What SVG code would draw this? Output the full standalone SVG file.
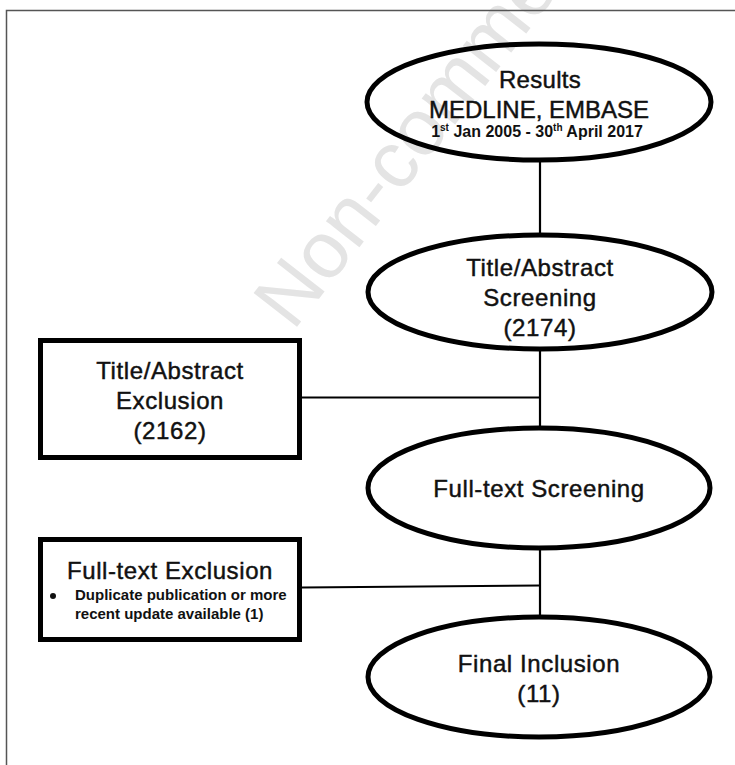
<svg xmlns="http://www.w3.org/2000/svg" width="735" height="765" viewBox="0 0 735 765">
<style>
.lbl{font-family:"Liberation Sans",Arial,Helvetica,sans-serif;font-size:24px;fill:#111;stroke:#111;stroke-width:0.45px;text-anchor:middle;letter-spacing:0.6px}
.node ellipse,.node rect{fill:none;stroke:#000;stroke-width:5}
.conn line{stroke:#000;stroke-width:2.2}
.small{font-family:"Liberation Sans",Arial,Helvetica,sans-serif;font-weight:bold;fill:#111}
</style>
<rect width="735" height="765" fill="#fff"/>
<text id="watermark" x="0" y="0" transform="translate(293,332) rotate(-52)" font-family="'Liberation Sans',Arial,sans-serif" font-size="80" fill="#e4e4e4">Non-comme</text>
<path d="M6.5 765 V10.5 H735" stroke="#555" stroke-width="1.5" fill="none"/>
<g id="connectors" class="conn">
<line x1="540" y1="160" x2="540" y2="236"/>
<line x1="540" y1="349" x2="540" y2="429"/>
<line x1="302" y1="397.5" x2="540" y2="397.5"/>
<line x1="540" y1="547" x2="540" y2="618"/>
<line x1="302" y1="587.5" x2="540" y2="585.5"/>
</g>
<g id="results" class="node">
<ellipse cx="539" cy="102" rx="172" ry="58"/>
<text class="lbl" x="540" y="88" style="letter-spacing:0.3px">Results</text>
<text class="lbl" x="539" y="118" style="letter-spacing:0">MEDLINE, EMBASE</text>
<text class="small" x="537" y="137" font-size="16" text-anchor="middle">1<tspan font-size="10" dy="-6">st</tspan><tspan dy="6"> Jan 2005 - 30</tspan><tspan font-size="10" dy="-6">th</tspan><tspan dy="6"> April 2017</tspan></text>
</g>
<g id="ta-screening" class="node">
<ellipse cx="540" cy="292" rx="172" ry="57"/>
<text class="lbl" x="540" y="276">Title/Abstract</text>
<text class="lbl" x="540" y="306">Screening</text>
<text class="lbl" x="540" y="336">(2174)</text>
</g>
<g id="ta-exclusion" class="node">
<rect x="40.5" y="340.5" width="259" height="117"/>
<text class="lbl" x="170" y="379">Title/Abstract</text>
<text class="lbl" x="170" y="409">Exclusion</text>
<text class="lbl" x="170" y="439">(2162)</text>
</g>
<g id="ft-screening" class="node">
<ellipse cx="539" cy="488" rx="171" ry="60"/>
<text class="lbl" x="539" y="497">Full-text Screening</text>
</g>
<g id="ft-exclusion" class="node">
<rect x="40.5" y="539.5" width="259" height="100"/>
<text class="lbl" x="170" y="579">Full-text Exclusion</text>
<circle cx="53" cy="596" r="3" fill="#111"/>
<text class="small" x="75" y="600" font-size="15">Duplicate publication or more</text>
<text class="small" x="75" y="619" font-size="15">recent update available (1)</text>
</g>
<g id="final-inclusion" class="node">
<ellipse cx="539" cy="677" rx="171" ry="60"/>
<text class="lbl" x="539" y="672">Final Inclusion</text>
<text class="lbl" x="539" y="702">(11)</text>
</g>
</svg>
